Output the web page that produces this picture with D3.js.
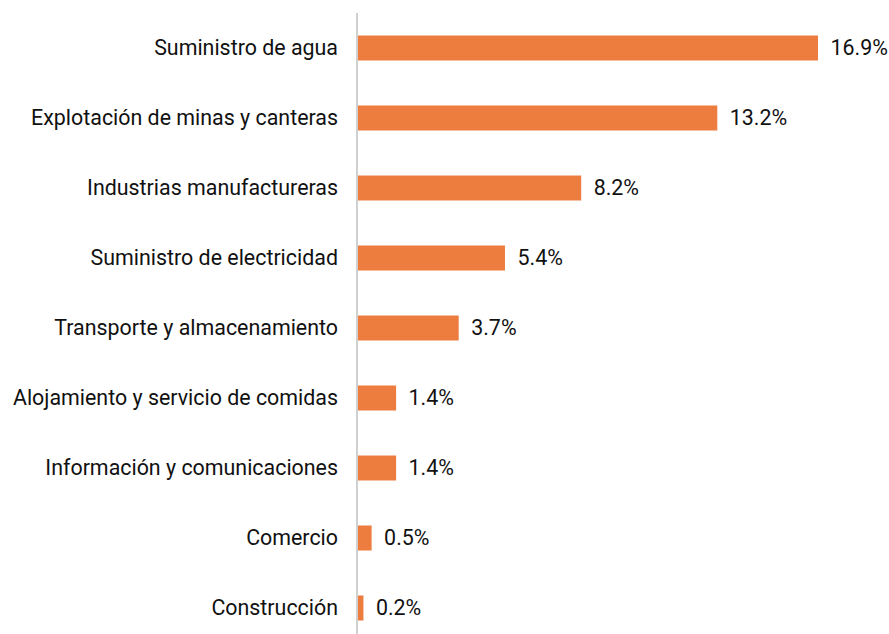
<!DOCTYPE html>
<html>
<head>
<meta charset="utf-8">
<script src="https://cdn.jsdelivr.net/npm/d3@7/dist/d3.min.js"></script>
<style>
  html, body { margin: 0; padding: 0; background: #fff; }
  svg { display: block; font-family: Roboto, "Noto Sans", sans-serif; }
</style>
</head>
<body>
<svg id="chart" width="889" height="634"></svg>
<script>
// Sectors, top to bottom
const categories = [
  "Suministro de agua",
  "Explotación de minas y canteras",
  "Industrias manufactureras",
  "Suministro de electricidad",
  "Transporte y almacenamiento",
  "Alojamiento y servicio de comidas",
  "Información y comunicaciones",
  "Comercio",
  "Construcción"
];
// Share (%) per sector
const values = [16.9, 13.2, 8.2, 5.4, 3.7, 1.4, 1.4, 0.5, 0.2];

const svg = d3.select("#chart");
const x0 = 358;

const x = d3.scaleLinear().domain([0, 16.9]).range([x0, 818]);
const y = d3.scalePoint().domain(categories).range([13, 643]).padding(0.5);
const barH = 25;
const fontSize = 21.4;

const data = categories.map((c, i) => ({ c, v: values[i] }));

// bars
svg.append("g").selectAll("rect").data(data).join("rect")
  .attr("x", x(0))
  .attr("y", d => y(d.c) - barH / 2)
  .attr("width", d => x(d.v) - x(0))
  .attr("height", barH)
  .attr("fill", "#ED7D3F");

// vertical category axis line
svg.append("line")
  .attr("x1", x0 - 1).attr("x2", x0 - 1)
  .attr("y1", 13).attr("y2", 634)
  .attr("stroke", "#d0d0d0").attr("stroke-width", 2);

// category labels
svg.append("g").selectAll("text").data(data).join("text")
  .attr("x", 338)
  .attr("y", d => y(d.c))
  .attr("dy", "0.35em")
  .attr("text-anchor", "end")
  .attr("font-size", fontSize)
  .attr("fill", "#111")
  .text(d => d.c);

// value labels
svg.append("g").selectAll("text").data(data).join("text")
  .attr("x", d => x(d.v) + 12.5)
  .attr("y", d => y(d.c))
  .attr("dy", "0.35em")
  .attr("font-size", fontSize)
  .attr("fill", "#111")
  .text(d => d3.format(".1f")(d.v) + "%");
</script>
</body>
</html>
